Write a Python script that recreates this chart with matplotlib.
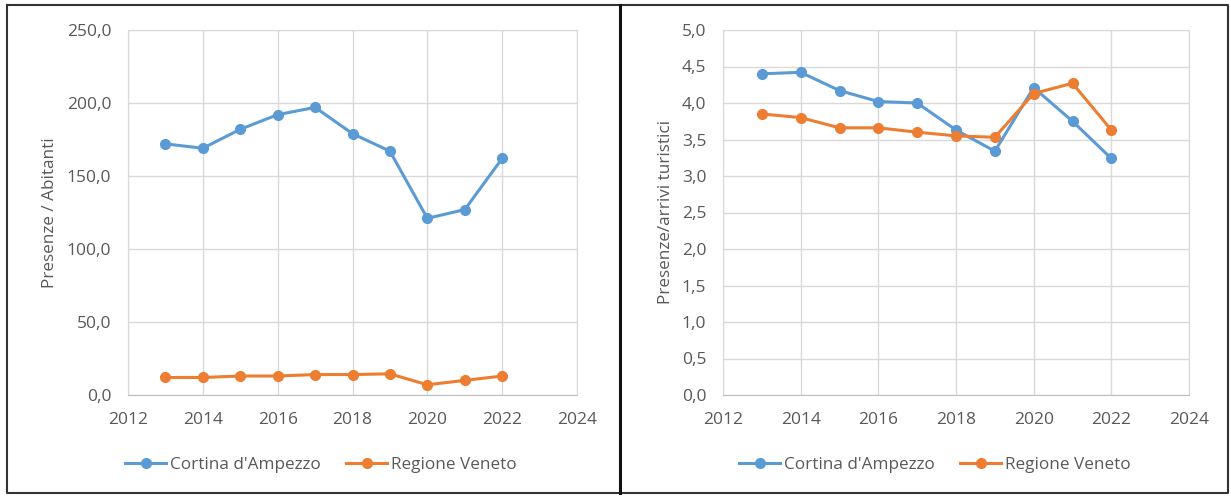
import matplotlib
matplotlib.use("Agg")
import matplotlib.pyplot as plt
from matplotlib.ticker import FuncFormatter

plt.rcParams['font.family'] = ['Open Sans', 'DejaVu Sans']

# dati
anni = [2013, 2014, 2015, 2016, 2017, 2018, 2019, 2020, 2021, 2022]
cortina_ab = [172, 169, 182, 192, 197, 179, 167, 121, 127, 162]
veneto_ab = [12, 12, 13, 13, 14, 14, 14.5, 7, 10, 13]
cortina_arr = [4.40, 4.42, 4.17, 4.02, 4.00, 3.63, 3.34, 4.21, 3.75, 3.24]
veneto_arr = [3.85, 3.80, 3.66, 3.66, 3.60, 3.55, 3.53, 4.13, 4.27, 3.63]
nomi = ["Cortina d'Ampezzo", "Regione Veneto"]

blu = '#5B9BD5'
arancio = '#ED7D31'
grigio = '#595959'

fig = plt.figure(figsize=(12.31, 4.96), dpi=100)
W, H = 1231, 496

def box(x0, y0, x1, y1):
    return [x0 / W, 1 - y1 / H, (x1 - x0) / W, (y1 - y0) / H]

# cornici esterne
frame = fig.add_axes([0, 0, 1, 1])
frame.set_xlim(0, W)
frame.set_ylim(H, 0)
frame.axis('off')
frame.plot([7, 1228, 1228, 7, 7], [5, 5, 493, 493, 5], color='#333333', lw=1.5)
frame.plot([620, 620], [5, 493], color='#111111', lw=2.2)

def pannello(rect, c, v, ymax, ystep, ylab, legx):
    ax = fig.add_axes(rect)
    ax.plot(anni, c, color=blu, lw=2.2, marker='o', ms=7, label=nomi[0], zorder=3)
    ax.plot(anni, v, color=arancio, lw=2.2, marker='o', ms=7, label=nomi[1], zorder=3)
    ax.set_xlim(2012, 2024)
    ax.set_ylim(0, ymax)
    ax.set_xticks(range(2012, 2025, 2))
    yt = [i * ystep for i in range(int(round(ymax / ystep)) + 1)]
    ax.set_yticks(yt)
    ax.yaxis.set_major_formatter(FuncFormatter(lambda val, p: ('%.1f' % val).replace('.', ',')))
    ax.grid(True, color='#D9D9D9', lw=1)
    ax.set_axisbelow(True)
    for s in ax.spines.values():
        s.set_color('#D9D9D9')
    ax.spines['bottom'].set_color('#BFBFBF')
    ax.tick_params(length=0, labelsize=12.5, colors=grigio)
    ax.tick_params(axis='y', pad=12)
    ax.tick_params(axis='x', pad=12)
    ax.set_ylabel(ylab, fontsize=12.3, color=grigio, labelpad=6)
    ax.legend(loc='center left', bbox_to_anchor=legx, ncol=2, frameon=False,
              fontsize=12.3, labelcolor=grigio, handlelength=2.4, columnspacing=1.5,
              handletextpad=0.2, bbox_transform=fig.transFigure)
    return ax

pannello(box(128, 30, 577, 395), cortina_ab, veneto_ab, 250, 50,
         'Presenze / Abitanti', (110 / W, 1 - 465 / H))
pannello(box(723, 30, 1189, 395), cortina_arr, veneto_arr, 5.0, 0.5,
         'Presenze/arrivi turistici', (724 / W, 1 - 465 / H))

fig.savefig('out.png', dpi=100, facecolor='white')
